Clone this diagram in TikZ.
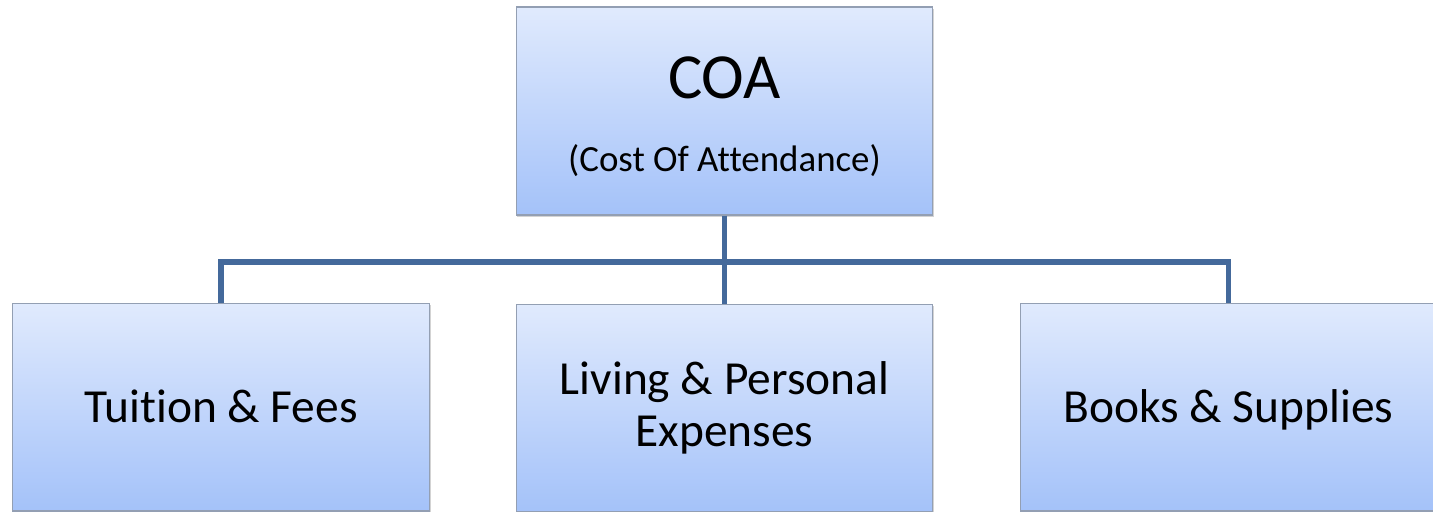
\documentclass[tikz,border=0pt]{standalone}
\usepackage{fontspec}
\setmainfont{Carlito}[Ligatures=NoCommon]
\usetikzlibrary{shadows}
\definecolor{boxtop}{HTML}{E0EAFD}
\definecolor{boxbot}{HTML}{A4C2F9}
\definecolor{boxedge}{HTML}{939FB3}
\definecolor{linkc}{HTML}{44699B}
\begin{document}
\begin{tikzpicture}[x=0.02cm,y=-0.02cm,
  box/.style={rectangle, draw=boxedge, line width=0.6pt, top color=boxtop, bottom color=boxbot,
    minimum width=8.34cm, minimum height=4.16cm, inner sep=0pt, align=center,
    drop shadow={opacity=0.35, shadow xshift=0.8pt, shadow yshift=-1.2pt}},
  link/.style={draw=linkc, line width=3pt},
  big/.style={font=\fontsize{27}{29.5}\selectfont},
  oneline/.style={text height=21.3pt, text depth=3.7pt}]
\useasboundingbox (0,0) rectangle (1433,511);
\node[box] (top) at (724.5,111) {};
\node[font=\fontsize{36.6}{40}\selectfont] (coa) at (724.5,78) {COA};
\node[font=\fontsize{21}{24}\selectfont] (cost) at (724.5,161) {(Cost Of Attendance)};
\node[box, big, oneline] (tui) at (221,407) {Tuition \& Fees};
\node[box, big] (liv) at (724.5,408) {Living \& Personal\\Expenses};
\node[box, big, oneline] (boo) at (1228.5,407) {Books \& Supplies};
\coordinate (j) at (724.5,262);
\path[link] (top.south) -- (j);
\path[link] (j) -| (tui.north);
\path[link] (j) -- (liv.north);
\path[link] (j) -| (boo.north);
\end{tikzpicture}
\end{document}
